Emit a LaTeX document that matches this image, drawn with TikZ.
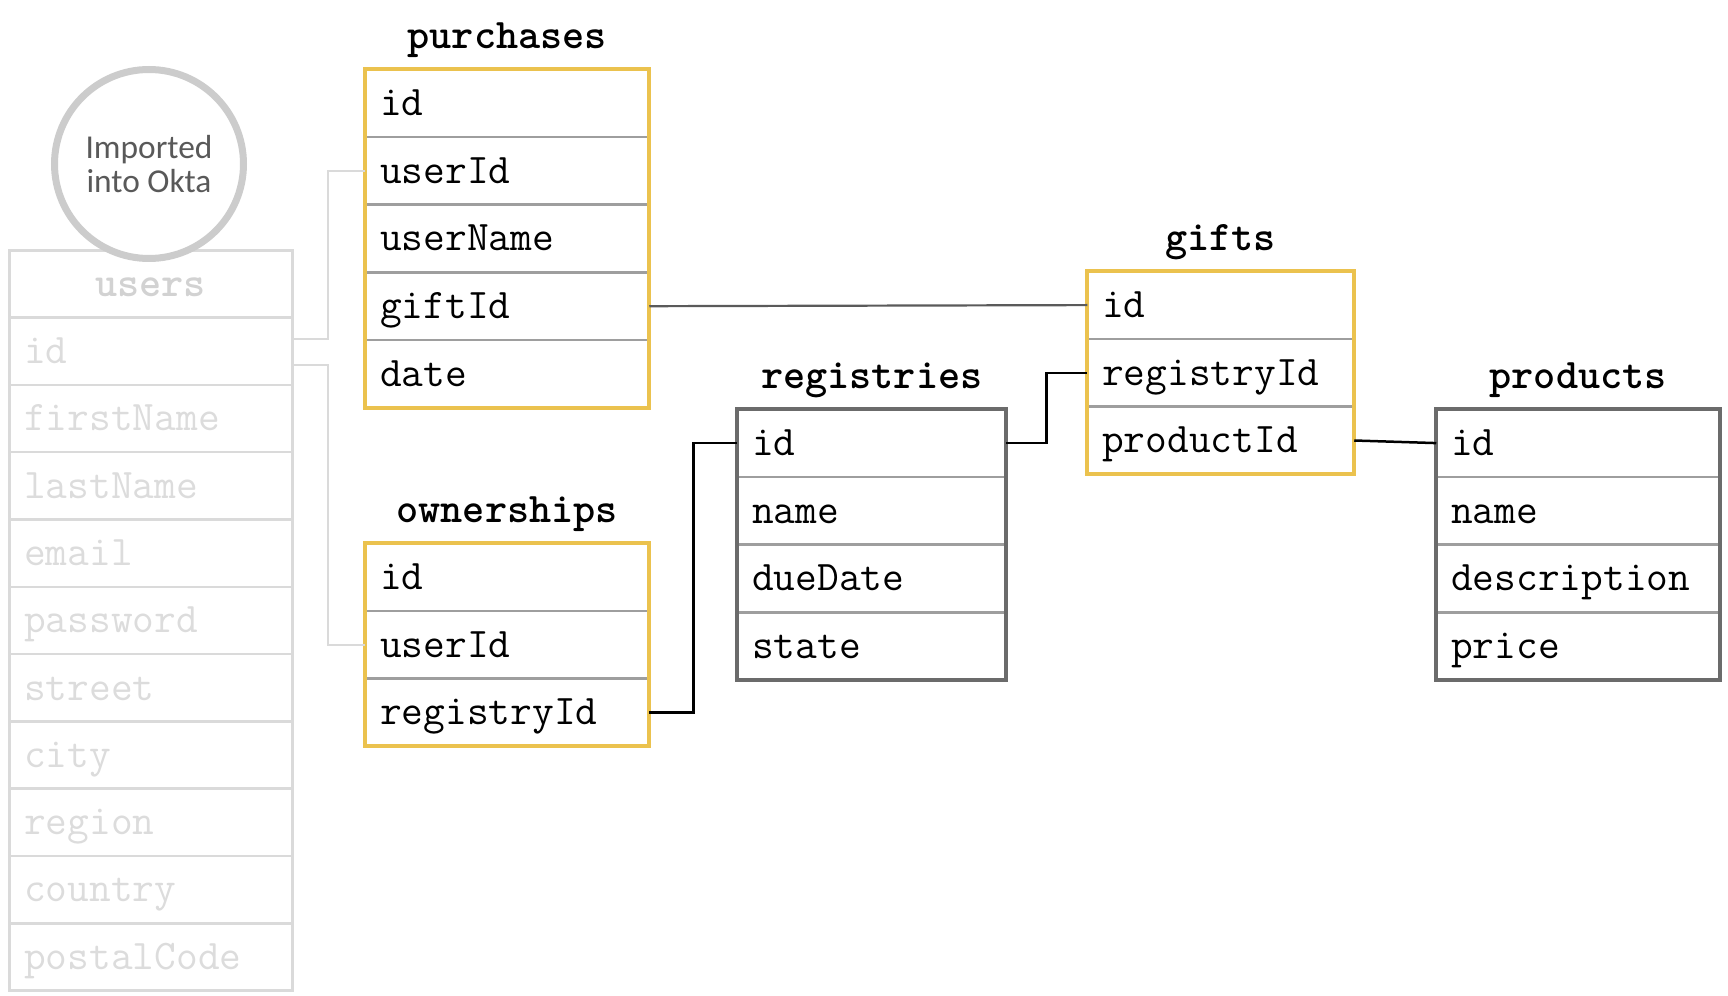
\documentclass[tikz,border=0pt]{standalone}
\usepackage{fontspec}
\newfontfamily\oktafont{Carlito}
\usetikzlibrary{matrix,positioning,fit}
\definecolor{ylw}{HTML}{EBC24E}
\definecolor{sepgray}{HTML}{9E9E9E}
\definecolor{boxgray}{HTML}{6B6B6B}
\definecolor{usrgray}{HTML}{DADADA}
\definecolor{usrtxt}{HTML}{DCDCDC}
\definecolor{usrhead}{HTML}{D2D2D2}
\definecolor{ringgray}{HTML}{CCCCCC}
\definecolor{oktatxt}{HTML}{595959}
\definecolor{giftline}{HTML}{5A5A5A}
\newcommand{\rowfont}{\ttfamily\fontsize{12}{14}\selectfont}

\begin{document}
\begin{tikzpicture}[
     % define styles
     tbl/.style={
         matrix of nodes,
         inner sep=0pt,
         outer sep=0pt,
         row sep=-0.025cm,
         nodes={ draw=sepgray, line width=0.025cm, outer sep=0pt,
                 minimum height=0.677cm,
                 text width=#1, inner xsep=0.15cm, inner ysep=0pt,
                 align=left, font=\rowfont, text=black,
                 text height=0.75em, text depth=0.05em }
     },
     usrtbl/.style={
         tbl=#1,
         nodes={ draw=usrgray, minimum height=0.673cm, text=usrtxt }
     },
     hdr/.style={
         font=\rowfont\bfseries,
         align=center,
         text=usrhead
     },
     ttl/.style={
         font=\rowfont\bfseries,
         inner sep=0pt,
         text height=0.62em,
         text depth=0.2em
     },
     ylwframe/.style={ draw=ylw, line width=0.04cm, inner sep=-0.0125cm, fit=#1 },
     grayframe/.style={ draw=boxgray, line width=0.04cm, inner sep=-0.0125cm, fit=#1 },
     usrframe/.style={ draw=usrgray, line width=0.028cm, inner sep=-0.0125cm, fit=#1 },
     okta/.style={
         circle, draw=ringgray, line width=0.07cm, fill=white,
         minimum size=1.89cm, inner sep=0pt, align=center,
         font=\oktafont\fontsize{9.5}{11.7}\selectfont, text=oktatxt
     },
     usrlink/.style={ draw=usrgray, line width=0.022cm },
     fk/.style={ draw=black, line width=0.025cm },
     giftlink/.style={ draw=giftline, line width=0.022cm }
]
\useasboundingbox (0,0) rectangle (17.28,-9.96);

% users (imported)
\matrix[usrtbl=2.53cm, anchor=north west] (usr) at (0.08,-2.49)
{
|[hdr]| users \\
id \\
firstName \\
lastName \\
email \\
password \\
street \\
city \\
region \\
country \\
postalCode \\
};
\node[usrframe=(usr)] (usrF) {};
\node[okta] (imp) at (1.49,-1.64) {\raisebox{-0.6mm}{\shortstack{Imported\\[-0.5mm]into Okta}}};

% purchases
\matrix[tbl=2.54cm, anchor=north west] (purch) at (3.64,-0.68)
{
id \\
userId \\
userName \\
giftId \\
date \\
};
\node[ylwframe=(purch)] (purchF) {};
\node[ttl, above=0.12cm of purch] (purchT) {purchases};

% ownerships
\matrix[tbl=2.54cm, anchor=north west] (own) at (3.64,-5.42)
{
id \\
userId \\
registryId \\
};
\node[ylwframe=(own)] (ownF) {};
\node[ttl, above=0.12cm of own] (ownT) {ownerships};

% registries
\matrix[tbl=2.39cm, anchor=north west] (reg) at (7.36,-4.08)
{
id \\
name \\
dueDate \\
state \\
};
\node[grayframe=(reg)] (regF) {};
\node[ttl, above=0.12cm of reg] (regT) {registries};

% gifts
\matrix[tbl=2.37cm, anchor=north west] (gift) at (10.86,-2.70)
{
id \\
registryId \\
productId \\
};
\node[ylwframe=(gift)] (giftF) {};
\node[ttl, above=0.12cm of gift] (giftT) {gifts};

% products
\matrix[tbl=2.54cm, anchor=north west] (prod) at (14.35,-4.08)
{
id \\
name \\
description \\
price \\
};
\node[grayframe=(prod)] (prodF) {};
\node[ttl, above=0.12cm of prod] (prodT) {products};

% users -> purchases, ownerships
\draw[usrlink] ([yshift=1.2mm]usr-2-1.east) -- ++(0.36,0) |- (purch-2-1.west);
\draw[usrlink] ([yshift=-1.4mm]usr-2-1.east) -- ++(0.36,0) |- (own-2-1.west);
% purchases -> gifts
\draw[giftlink] (purch-4-1.east) -- (gift-1-1.west);
% ownerships -> registries -> gifts -> products
\draw[fk] (own-3-1.east) -- ++(0.44,0) |- (reg-1-1.west);
\draw[fk] (reg-1-1.east) -- ++(0.40,0) |- (gift-2-1.west);
\draw[fk] (gift-3-1.east) -- (prod-1-1.west);

\end{tikzpicture}
\end{document}
